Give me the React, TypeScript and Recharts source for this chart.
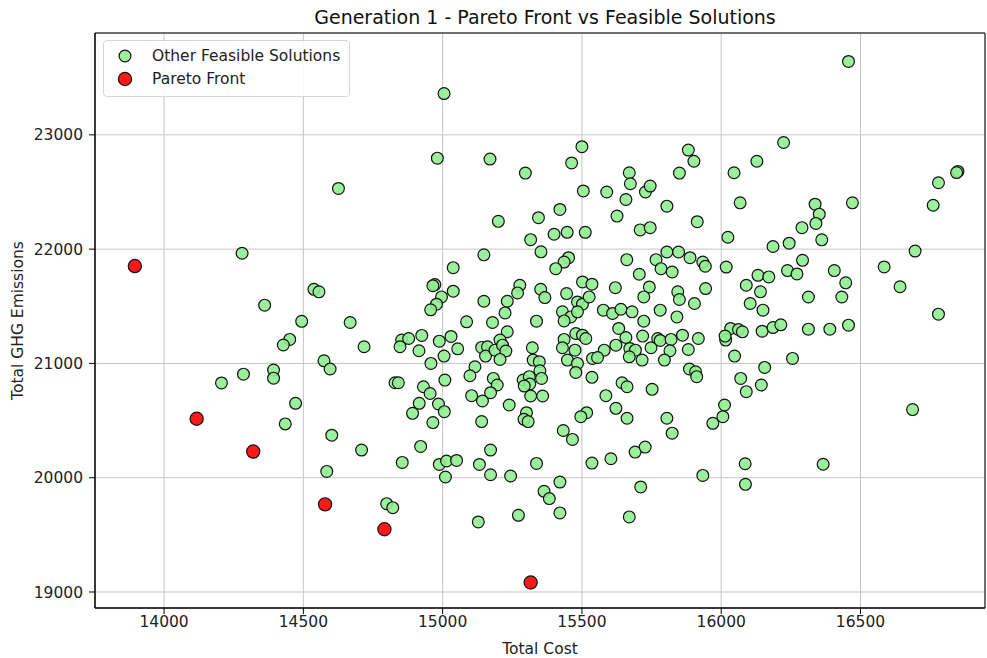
import React from 'react';
import { ScatterChart, Scatter, XAxis, YAxis, CartesianGrid, ReferenceArea } from 'recharts';

// [total cost, total GHG emissions]
const paretoFront: [number, number][] = [
  [13895, 21852], [14117, 20516], [14320, 20229], [14578, 19767], [14791, 19549], [15316, 19083],
];

const feasibleSolutions: [number, number][] = [
  [14280, 21964], [14538, 21648], [14556, 21626], [14361, 21510], [14494, 21368], [14451, 21210],
  [14428, 21161], [14285, 20906], [14393, 20942], [14393, 20871], [14206, 20829], [14472, 20651],
  [14435, 20471],
  [15005, 23361], [14981, 22796], [15170, 22788], [15297, 22665], [14626, 22531], [15200, 22243],
  [15344, 22275], [15316, 22083], [15353, 21976], [15148, 21950],
  [15038, 21838], [14972, 21690], [14965, 21680], [15038, 21632], [14996, 21582], [14978, 21518],
  [14957, 21469], [15148, 21544], [15277, 21684], [15269, 21617], [15232, 21544], [15224, 21442],
  [15352, 21649], [15367, 21576], [15337, 21370], [15086, 21364], [15179, 21358], [15232, 21277],
  [14668, 21358], [14718, 21146], [14853, 21204], [14847, 21146], [14878, 21218], [14925, 21245],
  [14915, 21111], [14988, 21195], [15030, 21236], [15054, 21128], [15005, 21064], [14958, 21000],
  [15140, 21140], [15161, 21146], [15154, 21064], [15188, 21116], [15206, 21204], [15215, 21160],
  [15227, 21108], [15206, 21035], [15322, 21137], [15325, 21029], [15347, 21015], [15349, 20936],
  [15355, 20869], [15289, 20855], [15311, 20884], [15313, 20820], [15293, 20802], [15316, 20715],
  [15359, 20715], [15116, 20971], [15098, 20892], [15182, 20869], [15196, 20811], [15172, 20744],
  [15104, 20718], [15143, 20671], [15239, 20636], [15301, 20569], [15292, 20511], [15307, 20491],
  [15140, 20491], [15008, 20854], [14931, 20796], [14955, 20737], [14916, 20651], [14892, 20563],
  [14985, 20645], [15006, 20578], [14965, 20482], [14829, 20831], [14841, 20831], [14574, 21023],
  [14596, 20951],
  [14602, 20372], [14709, 20242], [14921, 20274], [14855, 20134], [14584, 20055], [14988, 20116],
  [15014, 20146], [15050, 20151], [15010, 20006], [15132, 20116], [15172, 20242], [15172, 20026],
  [15244, 20015], [15337, 20125], [15364, 19881], [15383, 19817], [15128, 19613], [15272, 19671],
  [14799, 19773], [14821, 19738],
  [15500, 22896], [15463, 22754], [15505, 22509], [15589, 22500], [15670, 22668], [15674, 22572],
  [15658, 22434], [15728, 22500], [15745, 22552], [15626, 22289], [15805, 22376], [15709, 22168],
  [15745, 22188], [15421, 22347], [15400, 22130], [15447, 22147], [15512, 22147], [15882, 22867],
  [15902, 22769], [15850, 22665], [15914, 22240], [16046, 22668], [16128, 22769], [16068, 22405],
  [16024, 22104], [16186, 22023],
  [15452, 21925], [15436, 21887], [15406, 21829], [15661, 21908], [15766, 21908], [15784, 21829],
  [15824, 21800], [15805, 21975], [15847, 21975], [15888, 21925], [15934, 21887], [15943, 21850],
  [16018, 21843], [15706, 21780], [15502, 21713], [15536, 21693], [15620, 21663], [15742, 21669],
  [15722, 21582], [15844, 21626], [15850, 21559], [15944, 21655], [15904, 21524], [15445, 21611],
  [15484, 21538], [15502, 21518], [15526, 21582], [15430, 21451], [15460, 21407], [15436, 21372],
  [15484, 21451], [15577, 21466], [15610, 21437], [15640, 21474], [15680, 21451], [15781, 21466],
  [15841, 21407], [15722, 21370], [15632, 21306], [15436, 21210], [15430, 21137], [15478, 21262],
  [15502, 21247], [15514, 21218], [15475, 21116], [15580, 21116], [15538, 21044], [15556, 21052],
  [15448, 21029], [15484, 21000], [15478, 20921], [15622, 21160], [15658, 21227], [15672, 21131],
  [15692, 21116], [15670, 21058], [15716, 21029], [15718, 21239], [15748, 21137], [15772, 21218],
  [15781, 21201], [15820, 21210], [15816, 21111], [15861, 21247], [15796, 21029], [15882, 21122],
  [15918, 21218], [16016, 21204], [16034, 21306], [16062, 21297], [16076, 21276], [16014, 21239],
  [16048, 21064], [16147, 21282], [16186, 21314], [16090, 21684], [16104, 21524], [16150, 21466],
  [16141, 21626], [16132, 21771], [16171, 21757], [15886, 20951], [15908, 20927], [15912, 20884],
  [15752, 20773], [15644, 20831], [15662, 20796], [15536, 20878], [15586, 20718], [15622, 20607],
  [15662, 20520], [15805, 20520], [15517, 20569], [15496, 20534], [16012, 20636], [16006, 20534],
  [15970, 20476], [16070, 20869], [16156, 20965], [16144, 20811], [16090, 20753],
  [15433, 20413], [15466, 20335], [15824, 20390], [15536, 20128], [15604, 20166], [15691, 20224],
  [15727, 20268], [15934, 20020], [16086, 20122], [16087, 19942], [15421, 19962], [15421, 19692],
  [15711, 19919], [15670, 19657],
  [16457, 23642], [16224, 22933], [16850, 22680], [16845, 22670], [16780, 22581], [16761, 22384],
  [16471, 22405], [16337, 22393], [16352, 22306], [16340, 22225], [16290, 22188], [16361, 22081],
  [16244, 22052], [16696, 21983], [16292, 21902], [16238, 21812], [16272, 21783], [16406, 21812],
  [16447, 21705], [16585, 21844], [16642, 21671], [16313, 21581], [16433, 21581], [16780, 21431],
  [16214, 21338], [16313, 21300], [16390, 21300], [16457, 21335],
  [16256, 21044], [16687, 20596], [16366, 20118],
];

const costTicks = [14000, 14500, 15000, 15500, 16000, 16500];
const ghgTicks = [19000, 20000, 21000, 22000, 23000];
const costDomain: [number, number] = [13752, 16947];
const ghgDomain: [number, number] = [18860, 23891];

const FONT = '"DejaVu Sans", sans-serif';

const toRows = (pts: [number, number][]) => pts.map(([cost, ghg]) => ({ cost, ghg }));

const dot = (fill: string, r: number) => (props: any) => (
  <circle cx={props.cx} cy={props.cy} r={r} fill={fill} fillOpacity={0.9} stroke="#111" strokeWidth={1.2} />
);

const App: React.FC = () => {
  return (
    <div style={{ position: 'absolute', left: 0, top: 0, width: 987, height: 658, background: '#fff', fontFamily: FONT }}>
      <div style={{ position: 'absolute', left: 95, width: 900, top: 6, textAlign: 'center', fontSize: 19, color: '#111' }}>
        Generation 1 - Pareto Front vs Feasible Solutions
      </div>
      <ScatterChart width={987} height={658} margin={{ top: 33, right: 2, left: 0, bottom: 0 }}>
        <CartesianGrid stroke="#c4c4c4" strokeWidth={1} />
        <XAxis
          type="number"
          dataKey="cost"
          domain={costDomain}
          ticks={costTicks}
          allowDataOverflow
          height={50}
          tickSize={6}
          tickMargin={2}
          stroke="#000"
          tick={{ fill: '#222', fontSize: 15.5, fontFamily: FONT }}
          label={{ value: 'Total Cost', position: 'insideBottom', offset: 4, fill: '#222', fontSize: 15.5, fontFamily: FONT }}
        />
        <YAxis
          type="number"
          dataKey="ghg"
          domain={ghgDomain}
          ticks={ghgTicks}
          allowDataOverflow
          width={95}
          tickSize={6}
          tickMargin={6}
          stroke="#000"
          tick={{ fill: '#222', fontSize: 15.5, fontFamily: FONT }}
          label={{
            value: 'Total GHG Emissions',
            angle: -90,
            position: 'insideLeft',
            offset: 17,
            fill: '#222',
            fontSize: 15.5,
            fontFamily: FONT,
            style: { textAnchor: 'middle' },
          }}
        />
        <ReferenceArea x1={costDomain[0]} x2={costDomain[1]} y1={ghgDomain[0]} y2={ghgDomain[1]} fill="none" stroke="#000" strokeWidth={1} />
        <Scatter name="Other Feasible Solutions" data={toRows(feasibleSolutions)} shape={dot('#90ee90', 5.9)} isAnimationActive={false} />
        <Scatter name="Pareto Front" data={toRows(paretoFront)} shape={dot('#ff0000', 6.6)} isAnimationActive={false} />
      </ScatterChart>
      <div
        style={{
          position: 'absolute', left: 103, top: 40, width: 247, height: 57, boxSizing: 'border-box',
          border: '1px solid #d6d6d6', borderRadius: 4, background: 'rgba(255,255,255,0.85)', fontSize: 15.5, color: '#222',
        }}
      >
        {[
          { label: 'Other Feasible Solutions', fill: '#90ee90', r: 5.9, top: 5 },
          { label: 'Pareto Front', fill: '#ff0000', r: 6.6, top: 28 },
        ].map((item) => (
          <div key={item.label} style={{ position: 'absolute', left: 0, top: item.top, height: 20, display: 'flex', alignItems: 'center' }}>
            <svg width={40} height={20} style={{ display: 'block' }}>
              <circle cx={21} cy={10} r={item.r} fill={item.fill} fillOpacity={0.9} stroke="#111" strokeWidth={1.2} />
            </svg>
            <span style={{ marginLeft: 8 }}>{item.label}</span>
          </div>
        ))}
      </div>
    </div>
  );
};

export default App;
